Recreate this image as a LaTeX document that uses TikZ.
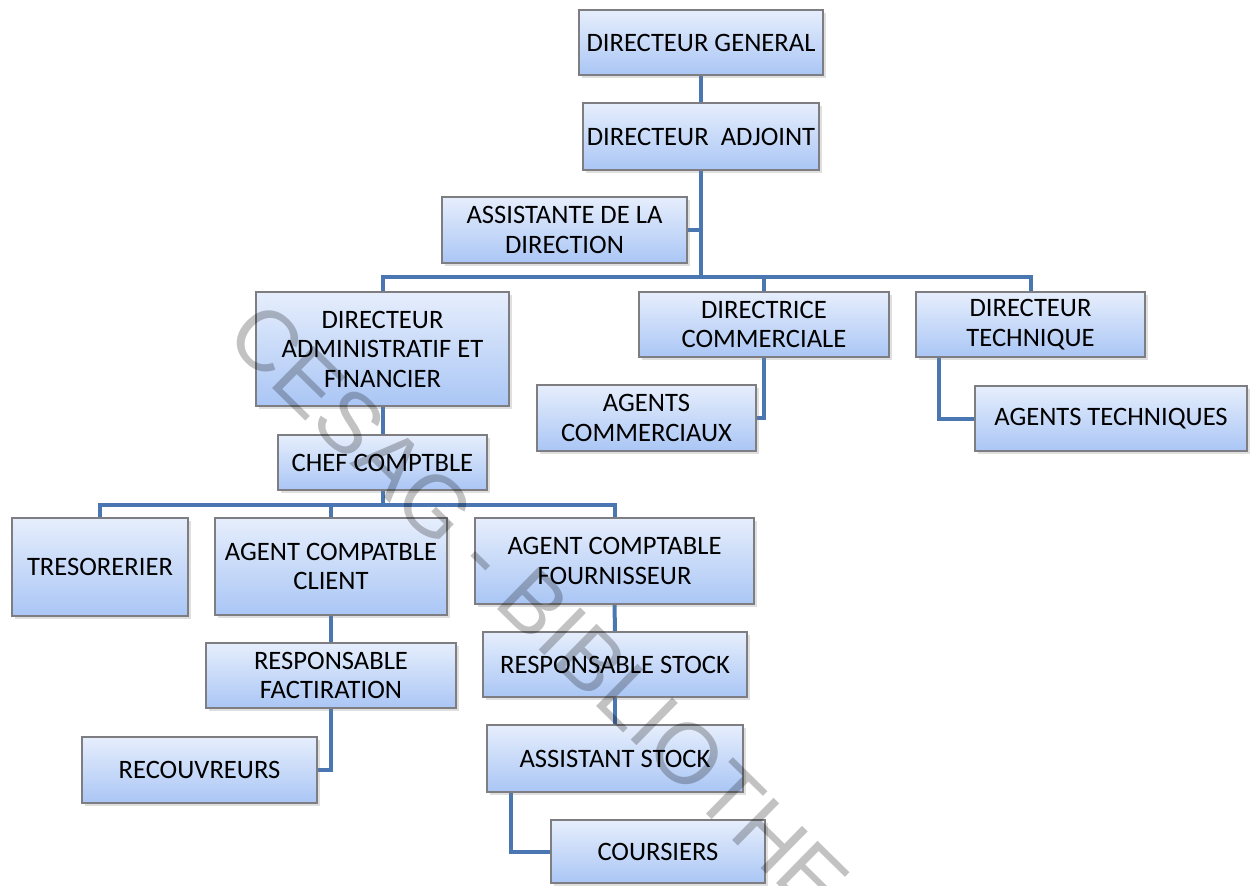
\documentclass[tikz,border=0pt]{standalone}
\usepackage{fontspec}
\setmainfont{Carlito}
\newfontfamily\wmfont{Liberation Sans}
\usetikzlibrary{shadows,backgrounds}
\definecolor{linkblue}{RGB}{74,118,178}
\definecolor{boxtop}{RGB}{230,238,252}
\definecolor{boxbot}{RGB}{170,198,245}
\definecolor{boxedge}{RGB}{125,125,130}
\tikzset{
  orgbox/.style={draw=boxedge, line width=0.8pt, top color=boxtop, bottom color=boxbot,
    align=center, inner sep=2pt, font=\fontsize{13.3}{14.75}\selectfont,
    drop shadow={shadow xshift=1.5pt, shadow yshift=-1.5pt, opacity=0.25, fill=gray}},
  link/.style={draw=linkblue, line width=2pt},
  wm/.style={text=black, text opacity=0.24, inner sep=0pt, text depth=0pt,
    font=\wmfont\fontsize{43}{43}\selectfont}
}
\begin{document}
\begin{tikzpicture}[x=0.5pt,y=-0.5pt]
\useasboundingbox (0,0) rectangle (1253,885);
% boxes
\node[orgbox, minimum width=122pt, minimum height=32.5pt] (dg) at (701,42.5) {DIRECTEUR GENERAL};
\node[orgbox, minimum width=116pt, minimum height=33.5pt] (da) at (701,136.5) {DIRECTEUR\ \ ADJOINT};
\node[orgbox, minimum width=122.5pt, minimum height=33pt] (asst) at (564.5,230) {ASSISTANTE DE LA\\DIRECTION};
\node[orgbox, minimum width=126.5pt, minimum height=57pt] (daf) at (382.5,349) {DIRECTEUR\\ADMINISTRATIF ET\\FINANCIER};
\node[orgbox, minimum width=104.5pt, minimum height=27.5pt] (cc) at (382.5,462.5) {CHEF COMPTBLE};
\node[orgbox, minimum width=125pt, minimum height=32.5pt] (dcom) at (764,324.5) {DIRECTRICE\\COMMERCIALE};
\node[orgbox, minimum width=114.5pt, minimum height=32.5pt] (dtech) at (1030.5,324.5) {DIRECTEUR\\TECHNIQUE};
\node[orgbox, minimum width=109.5pt, minimum height=33pt] (acom) at (646.5,418) {AGENTS\\COMMERCIAUX};
\node[orgbox, minimum width=136pt, minimum height=32.5pt] (atech) at (1111,418.5) {AGENTS TECHNIQUES};
\node[orgbox, minimum width=88pt, minimum height=49pt] (tres) at (100,567) {TRESORERIER};
\node[orgbox, minimum width=116pt, minimum height=48.5pt] (acc) at (331,566.5) {AGENT COMPATBLE\\CLIENT};
\node[orgbox, minimum width=139.5pt, minimum height=43pt] (acf) at (614.5,561) {AGENT COMPTABLE\\FOURNISSEUR};
\node[orgbox, minimum width=125pt, minimum height=32.5pt] (rf) at (331,675.5) {RESPONSABLE\\FACTIRATION};
\node[orgbox, minimum width=132pt, minimum height=32.5pt] (rs) at (615,664.5) {RESPONSABLE STOCK};
\node[orgbox, minimum width=117.5pt, minimum height=33pt] (rec) at (199.5,770) {RECOUVREURS};
\node[orgbox, minimum width=128pt, minimum height=33.5pt] (as) at (615,758.5) {ASSISTANT STOCK};
\node[orgbox, minimum width=107pt, minimum height=31.5pt] (cour) at (658,851.5) {COURSIERS};
% connectors
\coordinate (busA) at (0,277);
\coordinate (busB) at (0,505);
\begin{scope}[on background layer]
\draw[link] (dg.south) -- (da.north);
\draw[link] (da.south) -- (da.south |- busA);
\draw[link] (asst.east) -- (asst.east -| da.south);
\draw[link] (daf.north) -- (daf.north |- busA) -- (dtech.north |- busA) -- (dtech.north);
\draw[link] (dcom.north) -- (dcom.north |- busA);
\draw[link] (dcom.south) |- (acom.east);
\draw[link] ([xshift=12pt]dtech.south west) |- (atech.west);
\draw[link] (daf.south) -- (cc.north);
\draw[link] (cc.south) -- (cc.south |- busB);
\draw[link] (tres.north) -- (tres.north |- busB) -- (acf.north |- busB) -- (acf.north);
\draw[link] (acc.north) -- (acc.north |- busB);
\draw[link] (acc.south) -- (rf.north);
\draw[link] (rf.south) |- (rec.east);
\draw[link] (acf.south) -- (rs.north);
\draw[link] (rs.south) -- (as.north);
\draw[link] ([xshift=12.5pt]as.south west) |- (cour.west);
\end{scope}
% watermark
\node[wm, rotate=-44.5, anchor=west] (mark) at (244,318) {CESAG - BIBLIOTHEQUE};
\end{tikzpicture}
\end{document}
